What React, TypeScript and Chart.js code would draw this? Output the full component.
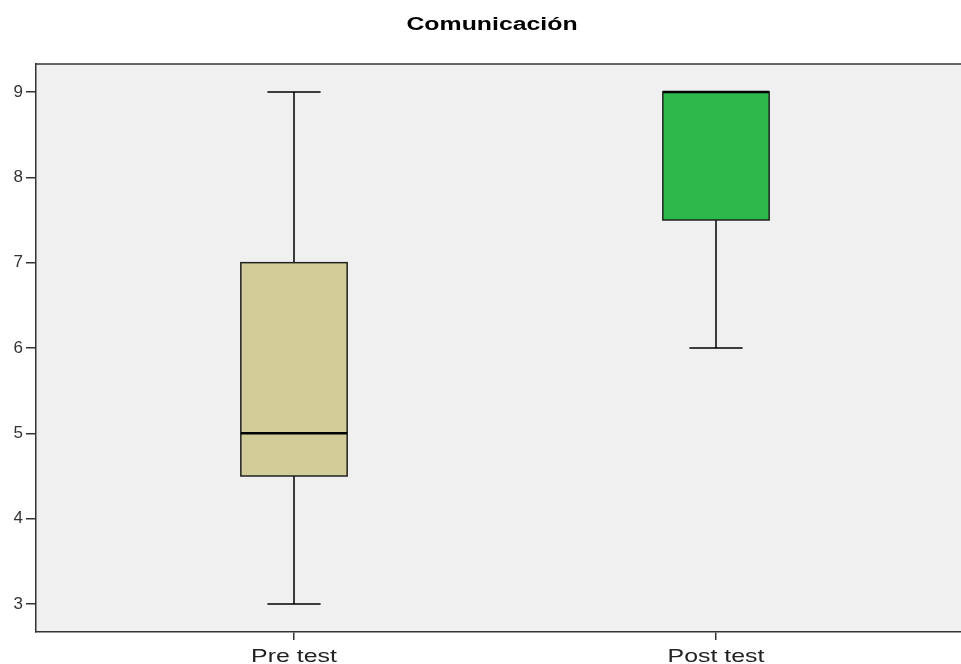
import React, { useEffect, useRef } from "react";
import { Chart, registerables } from "chart.js";

Chart.register(...registerables);

const categories = ["Pre test", "Post test"];
const whiskerLow = [3, 6];
const q1 = [4.5, 7.5];
const median = [5, 9];
const q3 = [7, 9];
const whiskerHigh = [9, 9];
const boxColors = ["#d2cd98", "#2eb84b"];
const yTicks = [3, 4, 5, 6, 7, 8, 9];
const titleText = "Comunicación";

const FONT = "'Liberation Sans', Arial, sans-serif";

function stretchedText(ctx: any, text: string, x: number, y: number, sx: number) {
  ctx.save();
  ctx.translate(x, y);
  ctx.scale(sx, 1);
  ctx.fillText(text, 0, 0);
  ctx.restore();
}

export default function App() {
  const ref = useRef<HTMLCanvasElement | null>(null);
  useEffect(() => {
    document.body.style.margin = "0";
    const canvas = ref.current!;
    const boxPlugin = {
      id: "boxPlugin",
      beforeDraw(chart: any) {
        const { ctx, chartArea } = chart;
        ctx.save();
        ctx.fillStyle = "#ffffff";
        ctx.fillRect(0, 0, chart.width, chart.height);
        ctx.fillStyle = "#f0f0f0";
        ctx.fillRect(chartArea.left, chartArea.top, chartArea.right - chartArea.left, chartArea.bottom - chartArea.top);
        ctx.restore();
      },
      afterDraw(chart: any) {
        const { ctx, chartArea } = chart;
        const xs = chart.scales.x;
        const ys = chart.scales.y;
        ctx.save();
        // top border
        ctx.strokeStyle = "#333333";
        ctx.lineWidth = 1.5;
        ctx.beginPath();
        ctx.moveTo(chartArea.left, chartArea.top);
        ctx.lineTo(chartArea.right, chartArea.top);
        ctx.stroke();
        // title
        ctx.fillStyle = "#000000";
        ctx.font = `bold 18px ${FONT}`;
        ctx.textAlign = "center";
        ctx.textBaseline = "alphabetic";
        stretchedText(ctx, titleText, 492, 30, 1.38);
        // x labels
        ctx.fillStyle = "#222222";
        ctx.font = `19px ${FONT}`;
        categories.forEach((c, i) => {
          stretchedText(ctx, c, xs.getPixelForValue(i + 1), 662, 1.31);
        });
        const unit = xs.getPixelForValue(2) - xs.getPixelForValue(1);
        const boxHalf = unit * 0.126;
        const capHalf = unit * 0.063;
        categories.forEach((_, i) => {
          const cx = xs.getPixelForValue(i + 1);
          const yLo = ys.getPixelForValue(whiskerLow[i]);
          const yQ1 = ys.getPixelForValue(q1[i]);
          const yMed = ys.getPixelForValue(median[i]);
          const yQ3 = ys.getPixelForValue(q3[i]);
          const yHi = ys.getPixelForValue(whiskerHigh[i]);
          ctx.strokeStyle = "#000000";
          ctx.lineWidth = 1.5;
          ctx.beginPath();
          ctx.moveTo(cx, yLo);
          ctx.lineTo(cx, yQ1);
          ctx.moveTo(cx, yQ3);
          ctx.lineTo(cx, yHi);
          ctx.moveTo(cx - capHalf, yLo);
          ctx.lineTo(cx + capHalf, yLo);
          ctx.moveTo(cx - capHalf, yHi);
          ctx.lineTo(cx + capHalf, yHi);
          ctx.stroke();
          ctx.fillStyle = boxColors[i];
          ctx.fillRect(cx - boxHalf, yQ3, boxHalf * 2, yQ1 - yQ3);
          ctx.strokeStyle = "#222222";
          ctx.lineWidth = 1.5;
          ctx.strokeRect(cx - boxHalf, yQ3, boxHalf * 2, yQ1 - yQ3);
          ctx.strokeStyle = "#000000";
          ctx.lineWidth = 2.5;
          ctx.beginPath();
          ctx.moveTo(cx - boxHalf, yMed);
          ctx.lineTo(cx + boxHalf, yMed);
          ctx.stroke();
        });
        ctx.restore();
      },
    };
    const chart = new Chart(canvas, {
      type: "scatter",
      data: {
        datasets: [
          {
            data: categories.map((_, i) => ({ x: i + 1, y: median[i] })),
            pointRadius: 0,
            showLine: false,
          },
        ],
      },
      options: {
        animation: false,
        responsive: false,
        maintainAspectRatio: false,
        layout: { padding: { top: 64, right: 0, left: 0, bottom: 0 } },
        plugins: { legend: { display: false }, tooltip: { enabled: false }, title: { display: false } },
        scales: {
          x: {
            type: "linear",
            min: 0.3886,
            max: 2.5806,
            afterBuildTicks(scale: any) {
              scale.ticks = categories.map((_, i) => ({ value: i + 1 }));
            },
            afterFit(scale: any) {
              scale.height = 32;
            },
            ticks: { display: false },
            grid: { drawOnChartArea: false, tickLength: 8, color: "#333333", lineWidth: 1.5 },
            border: { display: true, color: "#333333", width: 1.5 },
          },
          y: {
            type: "linear",
            min: 2.672,
            max: 9.328,
            afterBuildTicks(scale: any) {
              scale.ticks = yTicks.map((v) => ({ value: v }));
            },
            afterFit(scale: any) {
              scale.width = 36;
            },
            ticks: {
              color: "#333333",
              font: { family: FONT, size: 17 },
              padding: 3,
              autoSkip: false,
            },
            grid: { drawOnChartArea: false, tickLength: 10, color: "#333333", lineWidth: 1.5 },
            border: { display: true, color: "#333333", width: 1.5 },
          },
        },
      },
      plugins: [boxPlugin],
    } as any);
    return () => chart.destroy();
  }, []);
  return <canvas ref={ref} width={961} height={664} style={{ display: "block" }} />;
}
